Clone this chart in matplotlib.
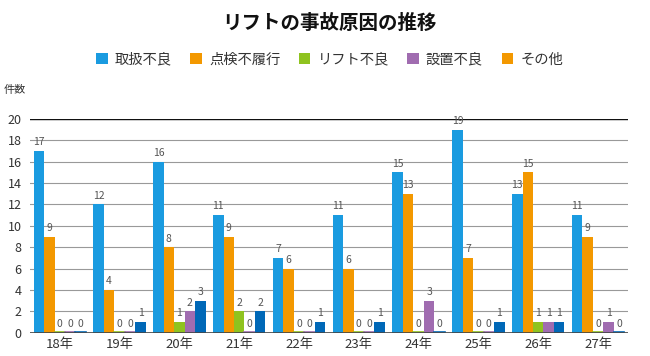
import matplotlib
matplotlib.use("Agg")
import matplotlib.pyplot as plt
from matplotlib.patches import Patch
import numpy as np

plt.rcParams['font.family'] = ['Noto Sans CJK JP', 'DejaVu Sans']

categories = ['18年', '19年', '20年', '21年', '22年', '23年', '24年', '25年', '26年', '27年']
series_names = ['取扱不良', '点検不履行', 'リフト不良', '設置不良', 'その他']
handling = [17, 12, 16, 11, 7, 11, 15, 19, 13, 11]
inspection = [9, 4, 8, 9, 6, 6, 13, 7, 15, 9]
lift_fault = [0, 0, 1, 2, 0, 0, 0, 0, 1, 0]
install = [0, 0, 2, 0, 0, 0, 3, 0, 1, 1]
other = [0, 1, 3, 2, 1, 1, 0, 1, 1, 0]
series = [handling, inspection, lift_fault, install, other]
bar_colors = ['#1a9be0', '#f39800', '#8fc31f', '#a06cb0', '#0068b7']
legend_colors = ['#1a9be0', '#f39800', '#8fc31f', '#a06cb0', '#f39800']

fig = plt.figure(figsize=(6.5, 3.56), dpi=100)
ax = fig.add_axes([0.046, 0.065, 0.92, 0.601])

x = np.arange(len(categories))
w = 0.175
for i, (vals, c) in enumerate(zip(series, bar_colors)):
    pos = x + (i - 2) * w
    ax.bar(pos, vals, width=w, color=c, zorder=3)
    for p, v in zip(pos, vals):
        if v == 0:
            ax.plot([p - w/2, p + w/2], [0.05, 0.05], color=c, lw=1.2, zorder=3)
        ax.text(p, v + 0.35, str(v), ha='center', va='bottom', fontsize=7.5,
                color='#555555', zorder=4)

ax.set_xlim(-0.5, len(categories) - 0.5)
ax.set_ylim(0, 20)
ax.set_yticks(range(0, 21, 2))
ax.grid(axis='y', color='#999999', lw=0.8, zorder=0)
ax.axhline(20, color='#111111', lw=1.0, zorder=2)
ax.axhline(0, color='#444444', lw=1.2, zorder=5)
for s in ax.spines.values():
    s.set_visible(False)
ax.tick_params(axis='both', length=0, labelsize=9, colors='#333333')
ax.tick_params(axis='y', pad=6)
ax.set_xticks(x)
ax.set_xticklabels(categories, fontsize=9.5)

fig.text(0.507, 0.935, 'リフトの事故原因の推移', ha='center', va='center',
         fontsize=14, fontweight='bold', color='#111111')
handles = [Patch(facecolor=c, edgecolor='none') for c in legend_colors]
fig.legend(handles, series_names, loc='center', bbox_to_anchor=(0.507, 0.832),
           ncol=5, frameon=False, fontsize=10.3, handlelength=0.8, handleheight=0.8,
           handletextpad=0.5, columnspacing=1.3, labelcolor='#333333')
fig.text(0.005, 0.748, '件数', ha='left', va='center', fontsize=8, color='#333333')

fig.savefig('out.png', dpi=100)
